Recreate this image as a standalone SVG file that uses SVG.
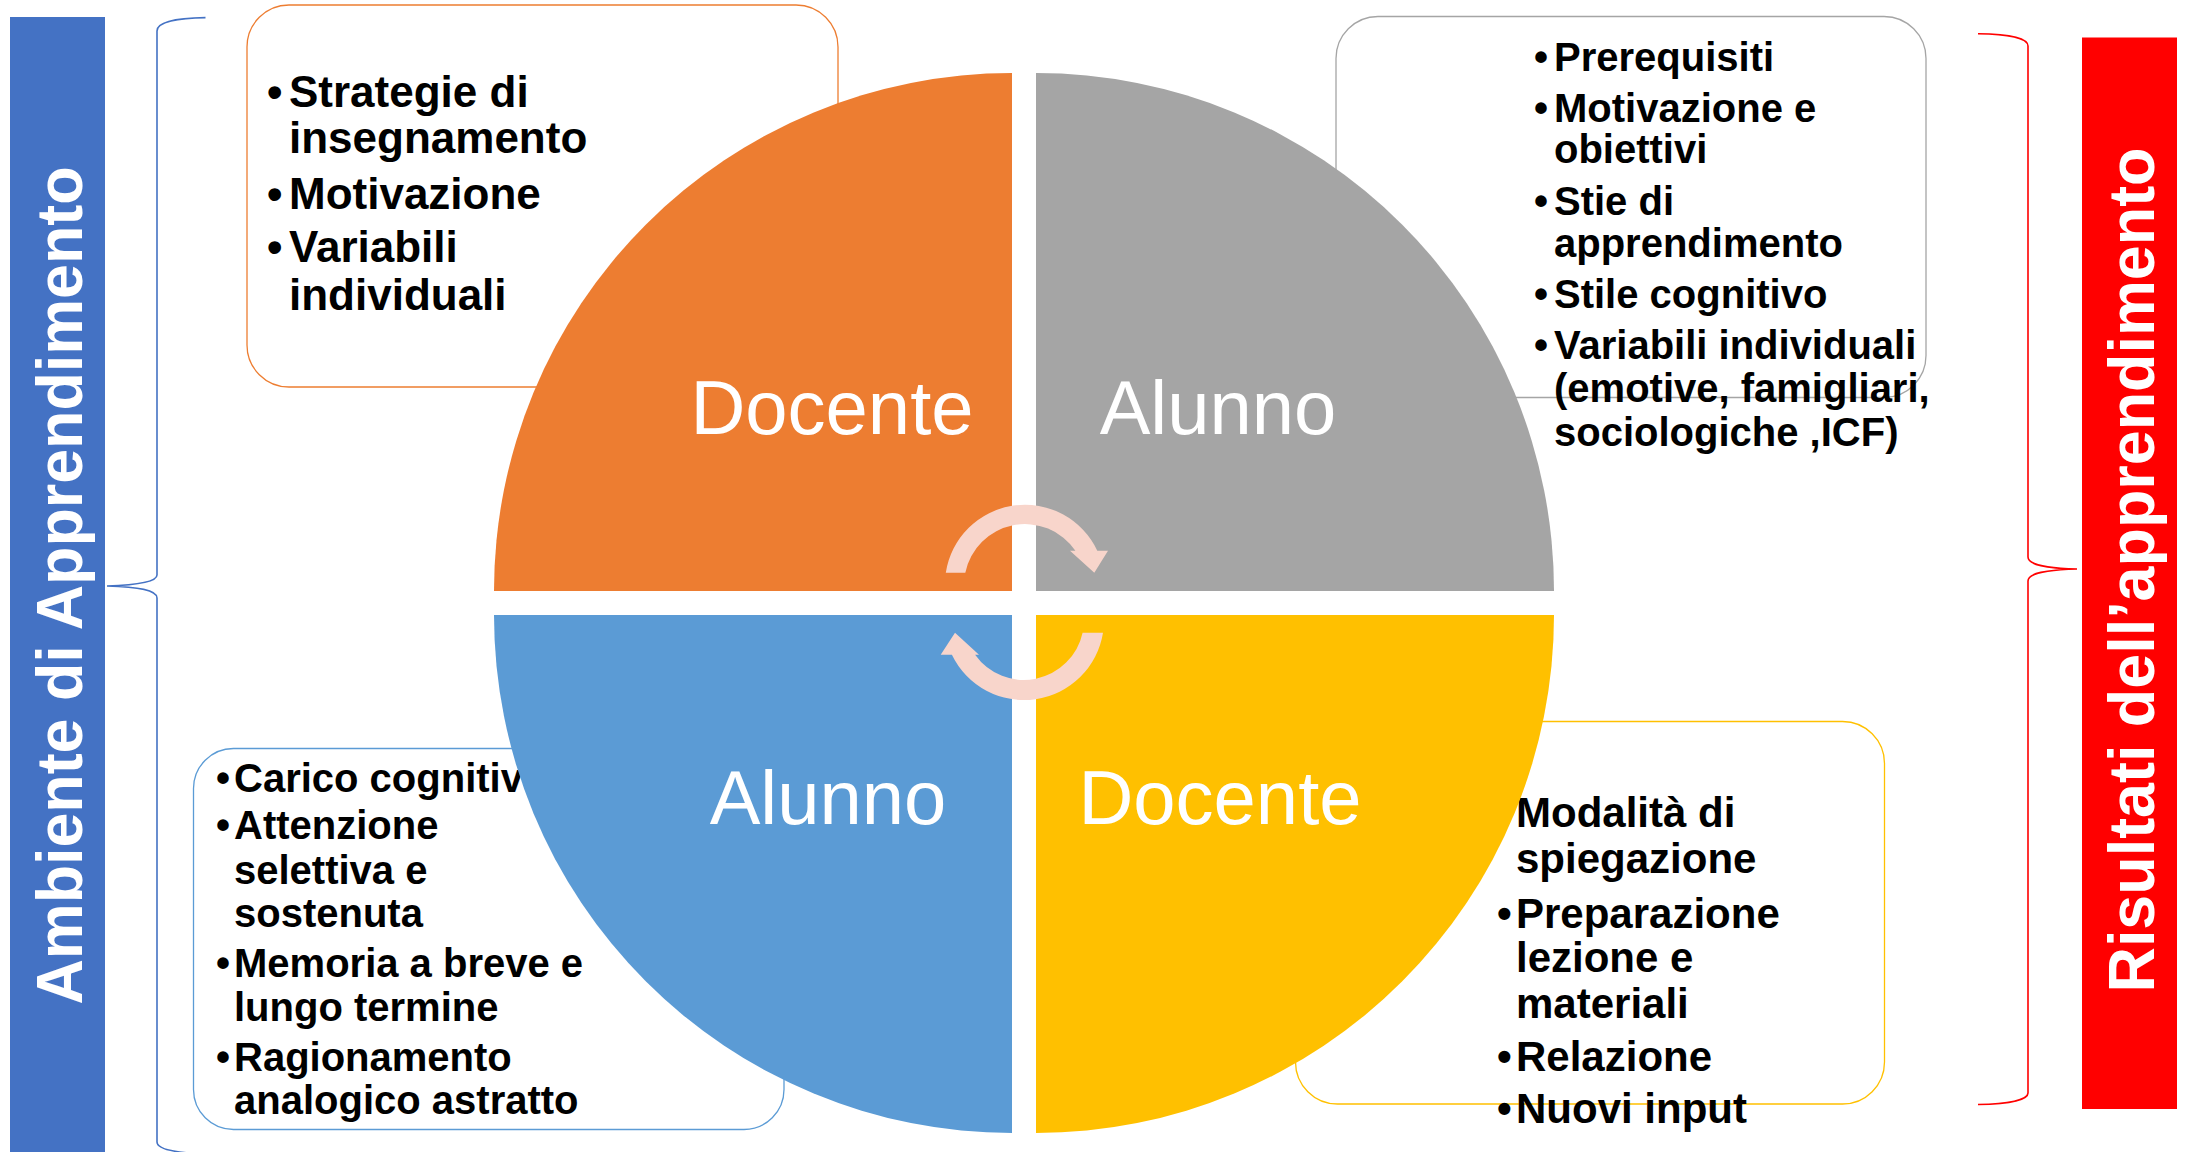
<svg xmlns="http://www.w3.org/2000/svg" width="2187" height="1152" viewBox="0 0 2187 1152">
  <style>
    .box { fill: #FFFFFF; stroke-width: 1.3; }
    .bt { font-family: "Liberation Sans", Arial, sans-serif; font-weight: bold; fill: #000000; }
    .ql { font-family: "Liberation Sans", Arial, sans-serif; font-size: 76px; fill: #FFFFFF; text-anchor: middle; }
    .side { font-family: "Liberation Sans", Arial, sans-serif; font-weight: bold; font-size: 65px; fill: #FFFFFF; text-anchor: middle; }
    .brace { fill: none; stroke-width: 1.6; }
    .arrow { fill: #F8D5CB; }
  </style>
  <rect width="2187" height="1152" fill="#FFFFFF"/>

  <!-- side bars -->
  <g id="ambiente">
    <rect x="10" y="17" width="95" height="1140" fill="#4472C4"/>
    <text class="side" transform="translate(82,585.5) rotate(-90)" textLength="838" lengthAdjust="spacingAndGlyphs">Ambiente di Apprendimento</text>
  </g>
  <g id="risultati">
    <rect x="2082" y="37.5" width="95" height="1071.5" fill="#FF0000"/>
    <text class="side" transform="translate(2154,570) rotate(-90)" textLength="845" lengthAdjust="spacingAndGlyphs">Risultati dell’apprendimento</text>
  </g>

  <!-- text boxes (behind the circle) -->
  <g id="box-docente-top">
    <rect class="box" x="247" y="5" width="591" height="382" rx="42" stroke="#ED7D31"/>
    <g class="bt" font-size="44">
      <text x="267" y="107">•</text><text x="289" y="107">Strategie di</text>
      <text x="289" y="153">insegnamento</text>
      <text x="267" y="209">•</text><text x="289" y="209">Motivazione</text>
      <text x="267" y="262">•</text><text x="289" y="262">Variabili</text>
      <text x="289" y="310">individuali</text>
    </g>
  </g>
  <g id="box-alunno-top">
    <rect class="box" x="1336" y="16.5" width="590" height="381" rx="42" stroke="#A5A5A5"/>
    <g class="bt" font-size="40">
      <text x="1534" y="71">•</text><text x="1554" y="71">Prerequisiti</text>
      <text x="1534" y="122">•</text><text x="1554" y="122">Motivazione e</text>
      <text x="1554" y="163">obiettivi</text>
      <text x="1534" y="215">•</text><text x="1554" y="215">Stie di</text>
      <text x="1554" y="257">apprendimento</text>
      <text x="1534" y="308">•</text><text x="1554" y="308">Stile cognitivo</text>
      <text x="1534" y="359">•</text><text x="1554" y="359">Variabili individuali</text>
      <text x="1554" y="402">(emotive, famigliari,</text>
      <text x="1554" y="446">sociologiche ,ICF)</text>
    </g>
  </g>
  <g id="box-alunno-bottom">
    <rect class="box" x="193.5" y="748.5" width="590.5" height="381" rx="40" stroke="#5B9BD5"/>
    <g class="bt" font-size="40">
      <text x="216" y="792">•</text><text x="234" y="792">Carico cognitivo</text>
      <text x="216" y="839">•</text><text x="234" y="839">Attenzione</text>
      <text x="234" y="883.5">selettiva e</text>
      <text x="234" y="927">sostenuta</text>
      <text x="216" y="977">•</text><text x="234" y="977">Memoria a breve e</text>
      <text x="234" y="1020.5">lungo termine</text>
      <text x="216" y="1071">•</text><text x="234" y="1071">Ragionamento</text>
      <text x="234" y="1113.5">analogico astratto</text>
    </g>
  </g>
  <g id="box-docente-bottom">
    <rect class="box" x="1295.5" y="721.5" width="589" height="382.5" rx="42" stroke="#FFC000"/>
    <g class="bt" font-size="42">
      <text x="1497" y="827">•</text><text x="1516" y="827">Modalità di</text>
      <text x="1516" y="873">spiegazione</text>
      <text x="1497" y="927.5">•</text><text x="1516" y="927.5">Preparazione</text>
      <text x="1516" y="971.5">lezione e</text>
      <text x="1516" y="1017.5">materiali</text>
      <text x="1497" y="1071">•</text><text x="1516" y="1071">Relazione</text>
      <text x="1497" y="1123">•</text><text x="1516" y="1123">Nuovi input</text>
    </g>
  </g>

  <!-- quadrants -->
  <g id="q-docente-top">
    <path d="M1012,591 L494,591 A518,518 0 0 1 1012,73 Z" fill="#ED7D31"/>
    <text class="ql" x="832" y="434">Docente</text>
  </g>
  <g id="q-alunno-top">
    <path d="M1036,591 L1036,73 A518,518 0 0 1 1554,591 Z" fill="#A5A5A5"/>
    <text class="ql" x="1218" y="434">Alunno</text>
  </g>
  <g id="q-alunno-bottom">
    <path d="M1012,615 L1012,1133 A518,518 0 0 1 494,615 Z" fill="#5B9BD5"/>
    <text class="ql" x="828" y="823.5">Alunno</text>
  </g>
  <g id="q-docente-bottom">
    <path d="M1036,615 L1554,615 A518,518 0 0 1 1036,1133 Z" fill="#FFC000"/>
    <text class="ql" x="1220" y="823.5">Docente</text>
  </g>

  <!-- connectors: cycle arrows and braces -->
  <g id="connectors">
    <path class="arrow" d="M945.8,572.7 A80,80 0 0 1 1097.3,550.7 L1108,550.7 L1094.3,572.7 L1070,550.7 L1075.4,550.7 A61,61 0 0 0 965.3,572.7 Z"/>
    <path class="arrow" d="M1103,632.7 A80,80 0 0 1 951.9,654.7 L940.7,654.7 L955,632.7 L979,654.7 L975.1,654.7 A60,60 0 0 0 1082.6,632.7 Z"/>
    <path class="brace" stroke="#4472C4" d="M205.5,17.6 C178,18 157,22 157,31 L157,575 C157,582 138,585 107,586 C138,587 157,590 157,598 L157,1142 C157,1150 178,1153 205.5,1154"/>
    <path class="brace" stroke="#FF0000" d="M1978,33.7 C2008,34 2028,38 2028,46 L2028,557 C2028,565 2046,568 2077,569 C2046,570 2028,573 2028,581 L2028,1093 C2028,1100 2008,1104 1978,1104.5"/>
  </g>
</svg>
